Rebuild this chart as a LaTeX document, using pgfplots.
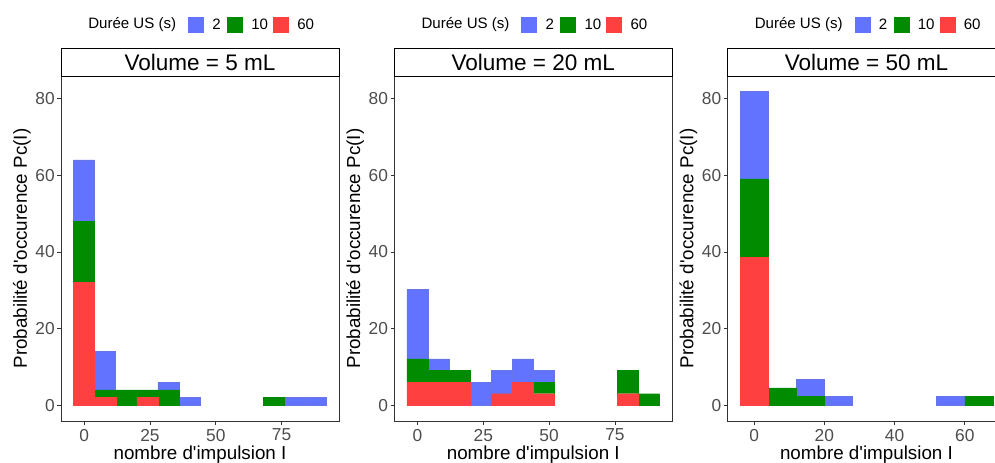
\documentclass[border=0pt]{standalone}
\usepackage{fontspec}
\setmainfont{Liberation Sans}[Ligatures=TeXOff]
\usepackage{pgfplots}
\pgfplotsset{compat=1.18}
\usepackage{pgfplotstable}

\definecolor{cblue}{RGB}{97,115,255}
\definecolor{cgreen}{RGB}{0,139,0}
\definecolor{cred}{RGB}{255,64,64}
\definecolor{gtwenty}{RGB}{51,51,51}
\definecolor{gthirty}{RGB}{77,77,77}

% Panel 1 : Volume = 5 mL
\pgfplotstableread{
x  red   green  blue
0  32    16     16
8  2     2      10
16 0     4      0
24 2     2      0
32 0     4      2
40 0     0      2
48 0     0      0
56 0     0      0
64 0     0      0
72 0     2      0
80 0     0      2
88 0     0      2
}\tabA

% Panel 2 : Volume = 20 mL
\pgfplotstableread{
x  red   green  blue
0  6.06  6.06   18.18
8  6.06  3.03   3.03
16 6.06  3.03   0
24 0     0      6.06
32 3.03  0      6.06
40 6.06  0      6.06
48 3.03  3.03   3.03
56 0     0      0
64 0     0      0
72 0     0      0
80 3.03  6.06   0
88 0     3.03   0
}\tabB

% Panel 3 : Volume = 50 mL
\pgfplotstableread{
x  red    green  blue
0  38.64  20.45  22.73
8  0      4.55   0
16 0      2.27   4.55
24 0      0      2.27
32 0      0      0
40 0      0      0
48 0      0      0
56 0      0      2.27
64 0      2.27   0
}\tabC

\pgfplotsset{
  panel/.style={
    scale only axis, width=208.5pt, height=258.75pt, anchor=south west,
    ybar stacked, bar width=8,
    ymin=-4.09, ymax=85.91, ytick={0,20,40,60,80},
    tick pos=left, tick align=outside, major tick length=2.75pt,
    tick style={draw=gtwenty, line width=0.55pt},
    axis line style={draw=gtwenty, line width=0.75pt},
    /pgf/number format/assume math mode=true,
    ticklabel style={font=\fontsize{13}{13}\selectfont, text=gthirty},
    xticklabel style={inner sep=3pt},
    yticklabel style={inner sep=1.75pt},
    xlabel={nombre d'impulsion I},
    ylabel={Probabilité d'occurence Pc(I)},
    every axis x label/.style={at={(axis description cs:0.5,0)}, anchor=base, yshift=-28.5pt, font=\fontsize{14.1}{14.1}\selectfont},
    every axis y label/.style={at={(axis description cs:-0.1403,0.5)}, rotate=90, anchor=center, font=\fontsize{14.1}{14.1}\selectfont},
    clip=false,
  },
  barR/.style={fill=cred, draw=cred, line width=0.3pt},
  barG/.style={fill=cgreen, draw=cgreen, line width=0.3pt},
  barB/.style={fill=cblue, draw=cblue!80!gray, line width=0.4pt},
}

\begin{document}
\begin{tikzpicture}
\begin{axis}[panel, at={(45.75pt,30.75pt)}, xmin=-8.8, xmax=96.8, xtick={0,25,50,75}]
\addplot[barR] table[x=x,y=red]{\tabA};
\addplot[barG] table[x=x,y=green]{\tabA};
\addplot[barB] table[x=x,y=blue]{\tabA};
\end{axis}

\begin{axis}[panel, at={(295.7pt,30.75pt)}, xmin=-8.8, xmax=96.8, xtick={0,25,50,75}]
\addplot[barR] table[x=x,y=red]{\tabB};
\addplot[barG] table[x=x,y=green]{\tabB};
\addplot[barB] table[x=x,y=blue]{\tabB};
\end{axis}

\begin{axis}[panel, at={(545.6pt,30.75pt)}, xmin=-7.6, xmax=71.6, xtick={0,20,40,60}]
\addplot[barR] table[x=x,y=red]{\tabC};
\addplot[barG] table[x=x,y=green]{\tabC};
\addplot[barB] table[x=x,y=blue]{\tabC};
\end{axis}

\begin{scope}[x=0.75pt, y=0.75pt]
% strips
\foreach \L/\T in {61/{Volume = 5 mL},394.3/{Volume = 20 mL},727.5/{Volume = 50 mL}}{
  \draw[black, line width=0.75pt, fill=white] (\L,386) rectangle ({\L+278},414);
  \node[font=\fontsize{16.9}{16.9}\selectfont, inner sep=0pt] at ({\L+139},400) {\T};
}
% legends
\foreach \L in {61,394.3,727.5}{
  \node[anchor=west, inner sep=0pt, font=\fontsize{11.3}{11.3}\selectfont] at ({\L+27},437.3) {Durée US (s)};
  \fill[cblue]  ({\L+127},429.3) rectangle ++(16,16);
  \node[anchor=west, inner sep=0pt, font=\fontsize{11.3}{11.3}\selectfont] at ({\L+151},437.3) {2};
  \fill[cgreen] ({\L+166},429.3) rectangle ++(16,16);
  \node[anchor=west, inner sep=0pt, font=\fontsize{11.3}{11.3}\selectfont] at ({\L+190},437.3) {10};
  \fill[cred]   ({\L+212},429.3) rectangle ++(16,16);
  \node[anchor=west, inner sep=0pt, font=\fontsize{11.3}{11.3}\selectfont] at ({\L+236},437.3) {60};
}
\end{scope}

\pgfresetboundingbox
\path[use as bounding box] (0,0) rectangle (746.25pt,346.5pt);
\end{tikzpicture}
\end{document}
